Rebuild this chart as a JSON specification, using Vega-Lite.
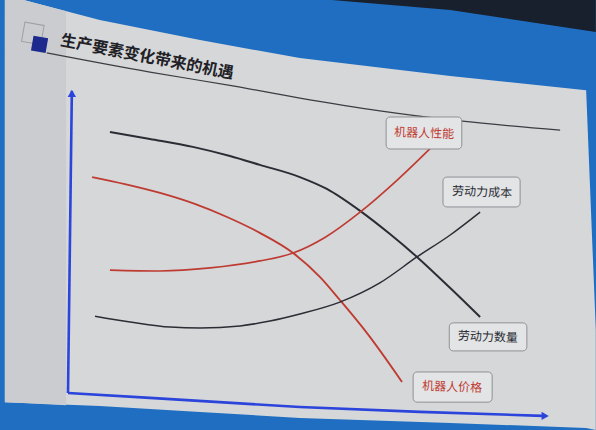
{
  "$schema": "https://vega.github.io/schema/vega-lite/v6.json",
  "width": 482,
  "height": 305,
  "autosize": "none",
  "padding": {"left": 68, "top": 88, "right": 46, "bottom": 37},
  "background": "#1f6ec2",
  "config": {"view": {"stroke": null}, "font": "Noto Sans CJK SC"},
  "datasets": {
    "topband": [
      {"x": 54.4, "top": 128.9, "bottom": 128.9},
      {"x": 79.3, "top": 128.9, "bottom": 125.6},
      {"x": 109.5, "top": 128.9, "bottom": 118.4}
    ],
    "slide": [
      {"x": -13.1, "top": 128.9, "bottom": -3.0},
      {"x": -9.3, "top": 128.9, "bottom": -3.3},
      {"x": 6.6, "top": 122.3, "bottom": -4.3},
      {"x": 27.4, "top": 115.7, "bottom": -6.2},
      {"x": 48.1, "top": 109.8, "bottom": -8.2},
      {"x": 79.3, "top": 103.9, "bottom": -9.8},
      {"x": 107.5, "top": 99.3, "bottom": -11.5},
      {"x": 109.5, "top": 20.7, "bottom": -12.1}
    ],
    "strip": [
      {"x": -13.1, "top": 128.9, "bottom": -3.0},
      {"x": -9.3, "top": 128.9, "bottom": -3.3},
      {"x": -0.4, "top": 125.2, "bottom": -4.0}
    ],
    "heading": [
      {"text": "生产要素变化带来的机遇", "x": -1.7, "y": 114.0}
    ],
    "underline": [
      {"x": -4.4, "y": 111.5},
      {"x": 17.0, "y": 105.2},
      {"x": 34.2, "y": 100.7},
      {"x": 48.1, "y": 96.7},
      {"x": 64.7, "y": 92.5},
      {"x": 81.3, "y": 89.2},
      {"x": 102.1, "y": 86.2}
    ],
    "iconFill": [{"x": -5.9, "y": 114.3}],
    "iconOutline": [{"x": -7.3, "y": 117.9}],
    "axes": [
      {"axis": "v", "x": 0, "y": 0},
      {"axis": "v", "x": 0.8, "y": 99},
      {"axis": "h", "x": 0, "y": 0},
      {"axis": "h", "x": 17.0, "y": -1.6},
      {"axis": "h", "x": 48.1, "y": -4.6},
      {"axis": "h", "x": 73.0, "y": -6.2},
      {"axis": "h", "x": 98.5, "y": -7.5}
    ],
    "arrows": [
      {"dir": "up", "x": 0.8, "y": 98.2},
      {"dir": "right", "x": 99.0, "y": -7.5}
    ],
    "curves": [
      {"series": "劳动力数量", "x": 8.7, "y": 85.6},
      {"series": "劳动力数量", "x": 17.0, "y": 83.3},
      {"series": "劳动力数量", "x": 25.9, "y": 80.7},
      {"series": "劳动力数量", "x": 33.6, "y": 77.7},
      {"series": "劳动力数量", "x": 39.8, "y": 74.8},
      {"series": "劳动力数量", "x": 48.1, "y": 70.8},
      {"series": "劳动力数量", "x": 53.7, "y": 66.9},
      {"series": "劳动力数量", "x": 60.6, "y": 59.7},
      {"series": "劳动力数量", "x": 66.8, "y": 52.1},
      {"series": "劳动力数量", "x": 72.4, "y": 44.6},
      {"series": "劳动力数量", "x": 79.3, "y": 34.4},
      {"series": "劳动力数量", "x": 85.5, "y": 24.9},
      {"series": "机器人价格", "x": 5.0, "y": 70.8},
      {"series": "机器人价格", "x": 11.8, "y": 68.5},
      {"series": "机器人价格", "x": 19.1, "y": 65.6},
      {"series": "机器人价格", "x": 26.3, "y": 62.0},
      {"series": "机器人价格", "x": 33.0, "y": 57.7},
      {"series": "机器人价格", "x": 39.8, "y": 52.5},
      {"series": "机器人价格", "x": 46.7, "y": 45.9},
      {"series": "机器人价格", "x": 52.3, "y": 38.0},
      {"series": "机器人价格", "x": 56.4, "y": 30.5},
      {"series": "机器人价格", "x": 62.0, "y": 19.7},
      {"series": "机器人价格", "x": 69.3, "y": 3.6},
      {"series": "机器人性能", "x": 8.7, "y": 40.3},
      {"series": "机器人性能", "x": 19.1, "y": 40.0},
      {"series": "机器人性能", "x": 29.5, "y": 41.0},
      {"series": "机器人性能", "x": 39.8, "y": 43.3},
      {"series": "机器人性能", "x": 46.7, "y": 45.9},
      {"series": "机器人性能", "x": 53.3, "y": 51.0},
      {"series": "机器人性能", "x": 60.6, "y": 59.3},
      {"series": "机器人性能", "x": 68.3, "y": 69.8},
      {"series": "机器人性能", "x": 75.5, "y": 80.7},
      {"series": "劳动力成本", "x": 5.6, "y": 25.2},
      {"series": "劳动力成本", "x": 12.9, "y": 23.3},
      {"series": "劳动力成本", "x": 21.2, "y": 21.6},
      {"series": "劳动力成本", "x": 27.4, "y": 21.3},
      {"series": "劳动力成本", "x": 35.7, "y": 22.0},
      {"series": "劳动力成本", "x": 41.9, "y": 23.6},
      {"series": "劳动力成本", "x": 48.1, "y": 25.9},
      {"series": "劳动力成本", "x": 56.4, "y": 29.8},
      {"series": "劳动力成本", "x": 64.7, "y": 36.1},
      {"series": "劳动力成本", "x": 72.4, "y": 44.6},
      {"series": "劳动力成本", "x": 79.3, "y": 51.8},
      {"series": "劳动力成本", "x": 85.5, "y": 59.3}
    ],
    "labels": [
      {"series": "机器人性能", "x1": 66.0, "x2": 81.7, "y1": 90.5, "y2": 80.0, "tx": 73.9, "ty": 85.2},
      {"series": "劳动力成本", "x1": 77.8, "x2": 93.8, "y1": 70.8, "y2": 61.0, "tx": 85.9, "ty": 65.9},
      {"series": "劳动力数量", "x1": 79.1, "x2": 95.2, "y1": 23.0, "y2": 13.8, "tx": 87.1, "ty": 18.4},
      {"series": "机器人价格", "x1": 71.6, "x2": 88.0, "y1": 6.9, "y2": -3.0, "tx": 79.7, "ty": 2.0}
    ]
  },
  "layer": [
    {
      "data": {"name": "topband"},
      "mark": {"type": "area", "color": "#17202c"},
      "encoding": {
        "x": {"field": "x", "type": "quantitative", "scale": {"domain": [0, 100], "nice": false, "zero": false}, "axis": null},
        "y": {"field": "top", "type": "quantitative", "scale": {"domain": [0, 100], "nice": false, "zero": false}, "axis": null},
        "y2": {"field": "bottom"}
      }
    },
    {
      "data": {"name": "slide"},
      "mark": {"type": "area", "color": "#d6d7d9"},
      "encoding": {
        "x": {"field": "x", "type": "quantitative"},
        "y": {"field": "top", "type": "quantitative"},
        "y2": {"field": "bottom"}
      }
    },
    {
      "data": {"name": "strip"},
      "mark": {"type": "area", "color": "#cbcccf"},
      "encoding": {
        "x": {"field": "x", "type": "quantitative"},
        "y": {"field": "top", "type": "quantitative"},
        "y2": {"field": "bottom"}
      }
    },
    {
      "data": {"name": "heading"},
      "mark": {"type": "text", "align": "left", "baseline": "alphabetic", "angle": 11, "fontSize": 16, "fontWeight": "bold", "color": "#1e2126", "font": "Noto Sans CJK SC"},
      "encoding": {
        "x": {"field": "x", "type": "quantitative"},
        "y": {"field": "y", "type": "quantitative"},
        "text": {"field": "text", "type": "nominal"}
      }
    },
    {
      "data": {"name": "underline"},
      "mark": {"type": "line", "color": "#3a3d42", "strokeWidth": 1.2, "interpolate": "monotone"},
      "encoding": {
        "x": {"field": "x", "type": "quantitative"},
        "y": {"field": "y", "type": "quantitative"}
      }
    },
    {
      "data": {"name": "iconOutline"},
      "mark": {"type": "point", "shape": "square", "size": 380, "filled": false, "color": "#8c8e92", "strokeWidth": 1, "angle": 10},
      "encoding": {
        "x": {"field": "x", "type": "quantitative"},
        "y": {"field": "y", "type": "quantitative"}
      }
    },
    {
      "data": {"name": "iconFill"},
      "mark": {"type": "point", "shape": "square", "size": 220, "filled": true, "opacity": 1, "color": "#1b2a8c", "angle": 10},
      "encoding": {
        "x": {"field": "x", "type": "quantitative"},
        "y": {"field": "y", "type": "quantitative"}
      }
    },
    {
      "data": {"name": "axes"},
      "mark": {"type": "line", "color": "#2b44dc", "strokeWidth": 2.6},
      "encoding": {
        "x": {"field": "x", "type": "quantitative"},
        "y": {"field": "y", "type": "quantitative"},
        "detail": {"field": "axis", "type": "nominal"}
      }
    },
    {
      "data": {"name": "arrows"},
      "mark": {"type": "point", "filled": true, "opacity": 1, "color": "#2b44dc", "size": 70},
      "encoding": {
        "x": {"field": "x", "type": "quantitative"},
        "y": {"field": "y", "type": "quantitative"},
        "shape": {"field": "dir", "type": "nominal", "scale": {"domain": ["up", "right"], "range": ["triangle-up", "triangle-right"]}, "legend": null}
      }
    },
    {
      "data": {"name": "curves"},
      "mark": {"type": "line", "interpolate": "monotone"},
      "encoding": {
        "x": {"field": "x", "type": "quantitative"},
        "y": {"field": "y", "type": "quantitative"},
        "color": {"field": "series", "type": "nominal", "scale": {"domain": ["劳动力数量", "机器人价格", "机器人性能", "劳动力成本"], "range": ["#2a2d34", "#bf3b32", "#bf3b32", "#2a2d34"]}, "legend": null},
        "strokeWidth": {"field": "series", "type": "nominal", "scale": {"domain": ["劳动力数量", "机器人价格", "机器人性能", "劳动力成本"], "range": [2, 1.5, 1.5, 2]}, "legend": null}
      }
    },
    {
      "data": {"name": "labels"},
      "mark": {"type": "rect", "fill": "#e3e4e6", "stroke": "#8e9094", "strokeWidth": 1, "cornerRadius": 4},
      "encoding": {
        "x": {"field": "x1", "type": "quantitative"},
        "x2": {"field": "x2"},
        "y": {"field": "y1", "type": "quantitative"},
        "y2": {"field": "y2"}
      }
    },
    {
      "data": {"name": "labels"},
      "mark": {"type": "text", "fontSize": 12, "align": "center", "baseline": "middle", "angle": 2, "font": "Noto Sans CJK SC"},
      "encoding": {
        "x": {"field": "tx", "type": "quantitative"},
        "y": {"field": "ty", "type": "quantitative"},
        "text": {"field": "series", "type": "nominal"},
        "color": {"field": "series", "type": "nominal"}
      }
    }
  ]
}
